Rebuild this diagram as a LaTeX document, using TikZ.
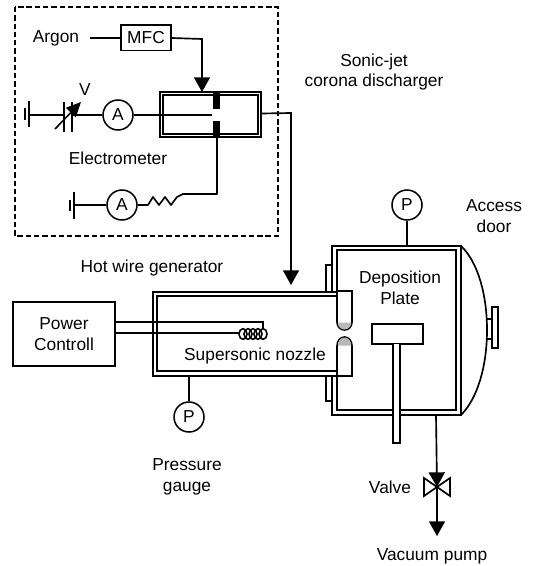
\documentclass[tikz,border=0pt]{standalone}
\usepackage{fontspec}
\setmainfont{Liberation Sans}
\usetikzlibrary{arrows.meta,calc}
\tikzset{
  wire/.style={line width=1.25pt,draw=black},
  thin wire/.style={line width=1pt,draw=black},
  flow/.style={line width=1.25pt,draw=black,-{Triangle[length=11pt,width=12pt]}},
  meter/.style={circle,draw=black,line width=1.15pt,minimum size=22.5pt,inner sep=0pt,font=\fontsize{13}{15}\selectfont},
  unit/.style={rectangle,draw=black,line width=1.25pt,inner sep=0pt,align=center,font=\fontsize{13}{15.5}\selectfont},
  label/.style={inner sep=0pt,align=center,font=\fontsize{13}{15.5}\selectfont},
}
\begin{document}
\begin{tikzpicture}[x=0.75pt,y=-0.75pt]
\useasboundingbox (0,0) rectangle (533,566);
\fill[white] (0,0) rectangle (533,566);
% dashed enclosure
\draw[line width=1pt,dash pattern=on 4pt off 2.2pt] (15,7) rectangle (278,236);
% labels
\node[label] (argon) at (56,38) {Argon};
\node[label] (vlab) at (85,90) {V};
\node[label] (elec) at (118,158) {Electrometer};
\node[label] (sonic) at (374,72) {Sonic-jet\\corona discharger};
\node[label] (hotw) at (152,268) {Hot wire generator};
\node[label] (nozzle) at (255,356) {Supersonic nozzle};
\node[label] (depo) at (400,288) {Deposition\\Plate};
\node[label] (door) at (494,216) {Access\\door};
\node[label] (gauge) at (187,477) {Pressure\\gauge};
\node[label] (valvel) at (390,487) {Valve};
\node[label] (vac) at (432,556) {Vacuum pump};
% units
\node[unit,minimum width=37.5pt,minimum height=19pt] (mfc) at (146,38) {MFC};
\node[unit,minimum width=76.5pt,minimum height=48pt] (power) at (64,334) {Power\\Controll};
% discharger
\node[rectangle,draw=black,line width=1.1pt,minimum width=75.75pt,minimum height=33.75pt,inner sep=0pt] (disch) at (210.5,114.5) {};
\draw[line width=0.9pt] (163,95) rectangle (258,134);
\fill (213,93) rectangle (220,109);
\fill (213,121) rectangle (220,136);
\coordinate (electop) at (202,92);
% meters
\node[meter] (a1) at (118,115) {A};
\node[meter] (a2) at (122,205) {A};
\node[meter] (p1) at (189,417) {P};
\node[meter] (p2) at (407,205) {P};
% argon line
\draw[thin wire] (90,38) -- (mfc.west);
\draw[flow] (mfc.east) -- (202,39) -- (electop);
% battery and ammeter
\coordinate (g1) at (29,115);
\draw[wire] (25,108) -- (25,120);
\draw[wire] (29,101) -- (29,127);
\draw[wire] (g1) -- (64,115);
\draw[wire] (64,102) -- (64,132);
\draw[wire] (72,102) -- (72,132);
\draw[wire] (72,115) -- (a1.west);
\draw[line width=1.2pt,-{Triangle[length=11pt,width=10pt]}] (55,129) -- (81,102);
\draw[wire] (a1.east) -- (142,115);
\draw[line width=2.2pt] (142,115) -- (212,115);
% lower circuit
\coordinate (g2) at (74,205);
\draw[wire] (70,200) -- (70,211);
\draw[wire] (74,192) -- (74,219);
\draw[wire] (g2) -- (a2.west);
\draw[wire,line join=round] (a2.east) -- (148,205) -- (153,197) -- (159,205) -- (165,197) -- (171,205) -- (177,197) -- (183,194) -- (217,194) -- (217,136);
% discharger to nozzle
\draw[flow] (disch.east) ++(0,-1) -- (291,113) -- (291,285);
% power wires
\draw[thin wire] (115,322) -- (263,322) -- (263,328);
\draw[wire] (115,333) -- (157,333);
\draw[line width=2.2pt] (157,333) -- (240,333);
\foreach \cx in {243,248,253,258,263}
  \draw[line width=1.2pt] (\cx,334) ellipse (3pt and 4pt);
% hot wire chamber
\draw[wire] (336,292) -- (153,292) -- (153,376) -- (336,376);
\draw[wire] (336,296) -- (157,296) -- (157,371) -- (336,371);
\draw[wire] (p1.north) -- (189,376);
% main chamber
\draw[wire] (332,292) -- (332,246) -- (461,246) -- (461,415) -- (332,415) -- (332,376);
\draw[wire] (337,291) -- (337,250) -- (456,250) -- (456,410) -- (337,410) -- (337,376);
\draw[wire] (p2.south) -- (407,246);
% flanges
\draw[wire] (332,265) -- (326,265) -- (326,292);
\draw[wire] (332,401) -- (326,401) -- (326,376);
% nozzle lips
\draw[wire,fill=white] (337,291) -- (352,291) -- (352,322) arc[start angle=0,end angle=180,x radius=7.5,y radius=8] -- cycle;
\draw[wire,fill=white] (337,376) -- (352,376) -- (352,346) arc[start angle=0,end angle=-180,x radius=7.5,y radius=9] -- cycle;
\fill[gray!55] (337.7,322.5) arc[start angle=180,end angle=0,x radius=6.8,y radius=7] -- cycle;
\fill[gray!55] (337.7,345.5) arc[start angle=-180,end angle=0,x radius=6.8,y radius=8] -- cycle;
% access door
\draw[wire] (461,246) .. controls (478,262) and (487,295) .. (487,330) .. controls (487,365) and (478,398) .. (461,415);
\draw[wire] (487,319) -- (492,319);
\draw[wire] (487,339) -- (492,339);
\draw[wire] (492,307) rectangle (498,348);
% deposition plate
\node[rectangle,draw=black,line width=1.25pt,minimum width=38.25pt,minimum height=15pt,inner sep=0pt] (plate) at (397.5,334) {};
\draw[wire,fill=white] (393,344) -- (393,443) -- (400,443) -- (400,344);
% outlet and valve
\coordinate (vc) at (437,487);
\draw[wire] (424,478) -- (450,496) -- (450,478) -- (424,496) -- cycle;
\draw[flow] (436,415) -- (vc);
\draw[flow] (vc) -- (437,536);
\end{tikzpicture}
\end{document}
